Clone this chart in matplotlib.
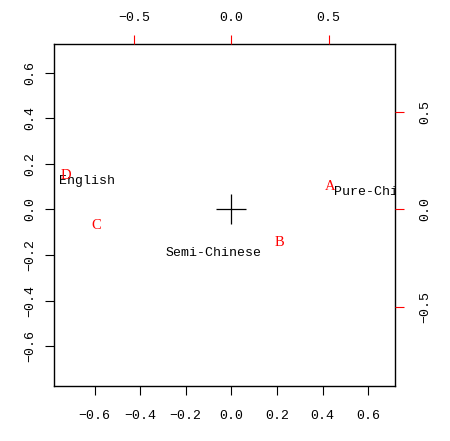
import matplotlib
matplotlib.use("Agg")
import matplotlib.pyplot as plt

# row scores (primary axes, black labels)
row_names = ["English", "Pure-Chinese", "Semi-Chinese"]
row_x = [-0.634, 0.663, -0.077]
row_y = [0.125, 0.077, -0.193]

# column scores (secondary axes, red letters)
col_names = ["A", "B", "C", "D"]
col_x = [0.511, 0.247, -0.693, -0.851]
col_y = [0.120, -0.172, -0.081, 0.176]

prim_ticks = [-0.6, -0.4, -0.2, 0.0, 0.2, 0.4, 0.6]
sec_ticks = [-0.5, 0.0, 0.5]

mono = "Liberation Mono"
serif = "Liberation Serif"

fig = plt.figure(figsize=(4.5, 4.41), dpi=100)
pos = [54 / 450, 1 - 386 / 441, (395 - 54) / 450, (386 - 44) / 441]
ax = fig.add_axes(pos)
ax2 = fig.add_axes(pos, frameon=False)

ax.set_xlim(-0.778, 0.718)
ax.set_ylim(-0.775, 0.725)
ax2.set_xlim(-0.912, 0.842)
ax2.set_ylim(-0.908, 0.85)

for s in ax.spines.values():
    s.set_linewidth(1)
    s.set_color("black")

ax.set_xticks(prim_ticks)
ax.set_yticks(prim_ticks)
ax.set_xticklabels([f"{t:.1f}".replace("-", "\u2212") for t in prim_ticks], fontfamily=mono, fontsize=9.5)
ax.set_yticklabels([f"{t:.1f}".replace("-", "\u2212") for t in prim_ticks], fontfamily=mono, fontsize=9.5,
                   rotation=90, va="center")
ax.tick_params(axis="x", direction="out", length=6.5, width=0.8, pad=11, color="black")
ax.tick_params(axis="y", direction="out", length=6.5, width=0.8, pad=6, color="black")

ax2.xaxis.tick_top()
ax2.yaxis.tick_right()
ax2.set_xticks(sec_ticks)
ax2.set_yticks(sec_ticks)
ax2.set_xticklabels([f"{t:.1f}".replace("-", "\u2212") for t in sec_ticks], fontfamily=mono, fontsize=9.5)
ax2.set_yticklabels([f"{t:.1f}".replace("-", "\u2212") for t in sec_ticks], fontfamily=mono, fontsize=9.5,
                    rotation=90, va="center")
ax2.tick_params(axis="x", direction="out", length=6.5, width=0.8, pad=8, color="red")
ax2.tick_params(axis="y", direction="out", length=6.5, width=0.8, pad=11, color="red")

# origin cross
ax.plot([0], [0], marker="+", markersize=22, mew=0.9, color="black", linestyle="none")

for name, x, y in zip(row_names, row_x, row_y):
    ax.text(x, y, name, ha="center", va="center", fontfamily=mono, fontsize=9.5,
            color="black", clip_on=True)

for name, x, y in zip(col_names, col_x, col_y):
    ax2.text(x, y, name, ha="center", va="center", fontfamily=serif, fontsize=10.5,
             color="red", clip_on=True)

fig.savefig("out.png", dpi=100)
